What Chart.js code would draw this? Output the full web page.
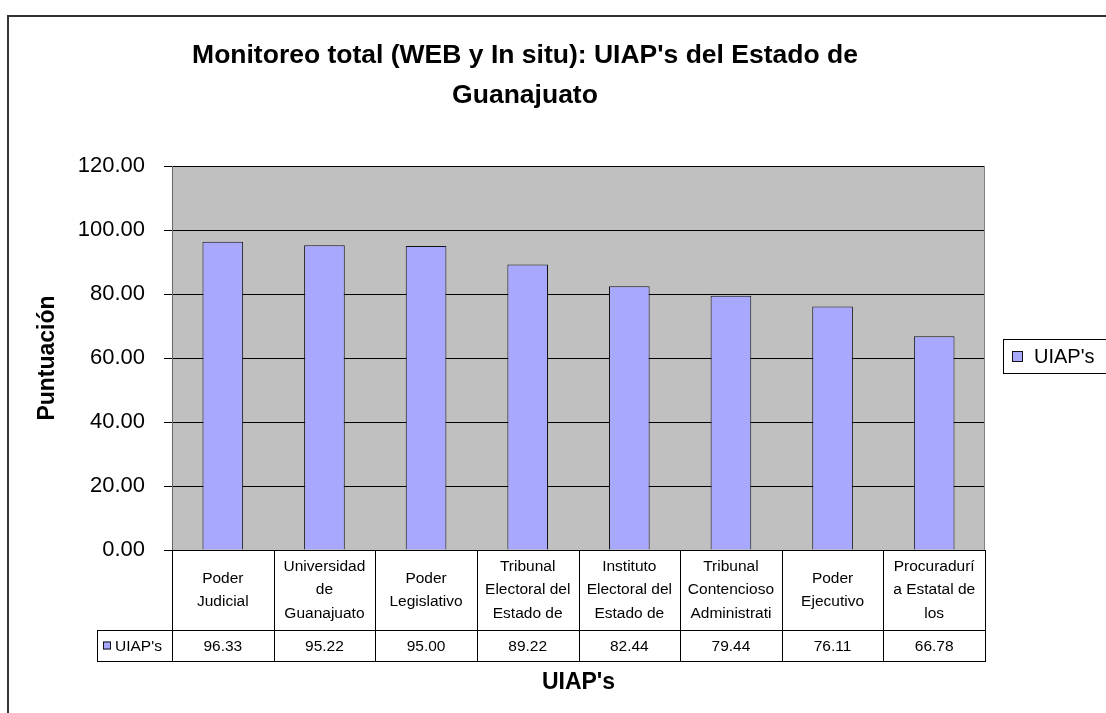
<!DOCTYPE html>
<html>
<head>
<meta charset="utf-8">
<script src="https://cdn.jsdelivr.net/npm/chart.js@4.4.1/dist/chart.umd.min.js"></script>
<style>
  body { margin: 0; background: #fff; }
  canvas { display: block; }
</style>
</head>
<body>
<canvas id="myChart" width="1106" height="713"></canvas>
<script>
// data
var titleLines = ["Monitoreo total (WEB y In situ): UIAP's del Estado de", "Guanajuato"];
var categories = [
  ["Poder", "Judicial"],
  ["Universidad", "de", "Guanajuato"],
  ["Poder", "Legislativo"],
  ["Tribunal", "Electoral del", "Estado de"],
  ["Instituto", "Electoral del", "Estado de"],
  ["Tribunal", "Contencioso", "Administrati"],
  ["Poder", "Ejecutivo"],
  ["Procuradurí", "a Estatal de", "los"]
];
var seriesName = "UIAP's";
var scores = [96.33, 95.22, 95.00, 89.22, 82.44, 79.44, 76.11, 66.78];
var yMin = 0, yMax = 120, yStep = 20;
var yTitle = "Puntuación";
var xTitle = "UIAP's";

var FONT = "'Liberation Sans', Arial, sans-serif";
var BAR_FILL = "#a8a8ff";
var BAR_LINE = "#111";

// excel style extras: gray plot area, data table, boxed legend, title, frame
var excelLook = {
  id: "excelLook",
  beforeDraw: function(chart) {
    var ctx = chart.ctx, a = chart.chartArea;
    ctx.save();
    ctx.fillStyle = "#fff";
    ctx.fillRect(0, 0, chart.width, chart.height);
    ctx.fillStyle = "#c0c0c0";
    ctx.fillRect(a.left, a.top, a.right - a.left, a.bottom - a.top);
    ctx.restore();
  },
  afterDraw: function(chart) {
    var ctx = chart.ctx, a = chart.chartArea, x = chart.scales.x;
    var n = categories.length, step = (a.right - a.left) / n;
    var row1 = a.bottom + 80, row2 = row1 + 31, keyLeft = 97;
    ctx.save();

    // right edge of plot area
    ctx.strokeStyle = "#808080";
    ctx.lineWidth = 1;
    ctx.beginPath();
    ctx.moveTo(Math.round(a.right) - 0.5, a.top);
    ctx.lineTo(Math.round(a.right) - 0.5, a.bottom);
    ctx.stroke();

    // table grid
    ctx.strokeStyle = "#000";
    ctx.beginPath();
    ctx.moveTo(keyLeft, row1 + 0.5); ctx.lineTo(a.right, row1 + 0.5);
    ctx.moveTo(keyLeft, row2 + 0.5); ctx.lineTo(a.right, row2 + 0.5);
    ctx.moveTo(keyLeft + 0.5, row1); ctx.lineTo(keyLeft + 0.5, row2);
    for (var i = 0; i <= n; i++) {
      var px = Math.round(a.left + i * step) + 0.5;
      ctx.moveTo(px, a.bottom); ctx.lineTo(px, row2 + 1);
    }
    ctx.stroke();

    // table text
    ctx.fillStyle = "#000";
    ctx.font = "15.5px " + FONT;
    ctx.textAlign = "center";
    ctx.textBaseline = "middle";
    var lh = 23.5;
    for (var j = 0; j < n; j++) {
      var cx = x.getPixelForValue(j);
      var lines = categories[j];
      var y0 = (a.bottom + row1) / 2 - (lines.length - 1) * lh / 2;
      for (var k = 0; k < lines.length; k++) {
        ctx.fillText(lines[k], cx, y0 + k * lh);
      }
      ctx.fillText(scores[j].toFixed(2), cx, (row1 + row2) / 2 + 1);
    }
    // series key in the table
    var my = (row1 + row2) / 2;
    ctx.fillStyle = BAR_FILL;
    ctx.fillRect(keyLeft + 6, my - 4, 8, 8);
    ctx.strokeStyle = BAR_LINE;
    ctx.strokeRect(keyLeft + 6.5, my - 3.5, 7, 7);
    ctx.fillStyle = "#000";
    ctx.textAlign = "left";
    ctx.fillText(seriesName, keyLeft + 18, my + 1);

    // legend box
    ctx.strokeStyle = "#000";
    ctx.strokeRect(1003.5, 339.5, 130, 34);
    ctx.fillStyle = BAR_FILL;
    ctx.fillRect(1012, 351, 11, 11);
    ctx.strokeStyle = BAR_LINE;
    ctx.strokeRect(1012.5, 351.5, 10, 10);
    ctx.fillStyle = "#000";
    ctx.font = "20px " + FONT;
    ctx.fillText(seriesName, 1034, 357);

    // title
    ctx.font = "bold 26.5px " + FONT;
    ctx.textAlign = "center";
    ctx.fillText(titleLines[0], 525, 56);
    ctx.fillText(titleLines[1], 525, 96);

    // chart frame (clipped on the right and bottom)
    ctx.strokeStyle = "#333";
    ctx.lineWidth = 2;
    ctx.beginPath();
    ctx.moveTo(8, chart.height);
    ctx.lineTo(8, 16);
    ctx.lineTo(chart.width, 16);
    ctx.stroke();
    ctx.restore();
  }
};

var ctx = document.getElementById("myChart").getContext("2d");
var myChart = new Chart(ctx, {
  type: "bar",
  data: {
    labels: categories,
    datasets: [{
      label: seriesName,
      data: scores,
      backgroundColor: BAR_FILL,
      borderColor: BAR_LINE,
      borderWidth: 1,
      categoryPercentage: 1,
      barPercentage: 0.4
    }]
  },
  options: {
    responsive: false,
    animation: false,
    layout: { padding: { left: 30, right: 121, top: 166, bottom: 13 } },
    plugins: {
      legend: { display: false },
      title: { display: false },
      tooltip: { enabled: false }
    },
    scales: {
      x: {
        ticks: { display: false },
        grid: { display: false },
        border: { display: false },
        title: {
          display: true,
          text: xTitle,
          color: "#000",
          font: { family: FONT, size: 23, weight: "bold" }
        },
        afterFit: function(scale) { scale.height = 150; }
      },
      y: {
        min: yMin,
        max: yMax,
        ticks: {
          stepSize: yStep,
          color: "#000",
          padding: 19,
          font: { family: FONT, size: 22 },
          callback: function(v) { return v.toFixed(2); }
        },
        grid: { color: "#000", lineWidth: 1, tickLength: 8 },
        border: { color: "#666" },
        title: {
          display: true,
          text: yTitle,
          color: "#000",
          font: { family: FONT, size: 23, weight: "bold" }
        },
        afterFit: function(scale) { scale.width = 142; }
      }
    }
  },
  plugins: [excelLook]
});
</script>
</body>
</html>
